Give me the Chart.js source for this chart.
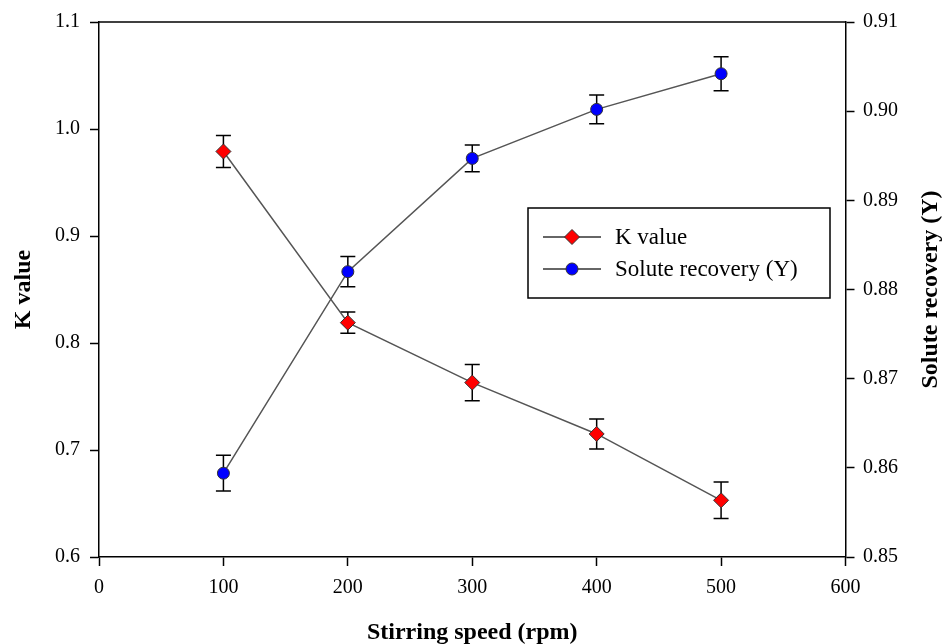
<!DOCTYPE html>
<html>
<head>
<meta charset="utf-8">
<title>K value and solute recovery vs stirring speed</title>
<script src="https://cdn.jsdelivr.net/npm/chart.js@4.4.1/dist/chart.umd.min.js"></script>
<style>
  html, body { margin: 0; padding: 0; background: #fff; }
  #wrap { width: 950px; height: 644px; }
</style>
</head>
<body>
<div id="wrap"><canvas id="chart" width="950" height="644"></canvas></div>
<script>
// Values
const speeds = [100, 200, 300, 400, 500];
const kValues = [0.979, 0.819, 0.763, 0.715, 0.653];
const kErrors = [0.015, 0.010, 0.017, 0.014, 0.017];
const recovery = [0.8594, 0.8820, 0.8947, 0.9002, 0.9042];
const recoveryErrors = [0.0020, 0.0017, 0.0015, 0.0016, 0.0019];

const xTicks = [0, 100, 200, 300, 400, 500, 600];
const kTicks = [0.6, 0.7, 0.8, 0.9, 1.0, 1.1];
const recoveryTicks = [0.85, 0.86, 0.87, 0.88, 0.89, 0.90, 0.91];

const SERIF = "'Liberation Serif', 'Times New Roman', serif";

const errorBars = {
  id: "errorBars",
  beforeDatasetsDraw(chart) {
    const { ctx } = chart;
    const x = chart.scales.x;
    const sets = [
      { scale: chart.scales.y, values: kValues, errors: kErrors },
      { scale: chart.scales.y1, values: recovery, errors: recoveryErrors },
    ];
    ctx.save();
    ctx.strokeStyle = "#000";
    ctx.lineWidth = 1.5;
    sets.forEach((set) => {
      set.values.forEach((v, i) => {
        const px = x.getPixelForValue(speeds[i]);
        const top = set.scale.getPixelForValue(v + set.errors[i]);
        const bot = set.scale.getPixelForValue(v - set.errors[i]);
        ctx.beginPath();
        ctx.moveTo(px, top);
        ctx.lineTo(px, bot);
        ctx.moveTo(px - 7.5, top);
        ctx.lineTo(px + 7.5, top);
        ctx.moveTo(px - 7.5, bot);
        ctx.lineTo(px + 7.5, bot);
        ctx.stroke();
      });
    });
    ctx.restore();
  },
};

const frameAndLegend = {
  id: "frameAndLegend",
  afterDraw(chart) {
    const { ctx, chartArea } = chart;
    ctx.save();
    // top frame line
    ctx.strokeStyle = "#000";
    ctx.lineWidth = 1.5;
    ctx.beginPath();
    ctx.moveTo(chartArea.left, chartArea.top);
    ctx.lineTo(chartArea.right, chartArea.top);
    ctx.stroke();

    // right axis title, reading upwards
    ctx.fillStyle = "#000";
    ctx.font = `bold 24px ${SERIF}`;
    ctx.textAlign = "center";
    ctx.textBaseline = "middle";
    ctx.translate(931, (chartArea.top + chartArea.bottom) / 2);
    ctx.rotate(-Math.PI / 2);
    ctx.fillText("Solute recovery (Y)", 0, 0);
    ctx.setTransform(1, 0, 0, 1, 0, 0);

    // legend box
    ctx.lineWidth = 1.5;
    ctx.strokeRect(528, 208, 302, 90);
    const rows = [
      { label: "K value", y: 237, color: "#ff0000", shape: "diamond" },
      { label: "Solute recovery (Y)", y: 269, color: "#0000ff", shape: "circle" },
    ];
    rows.forEach((row) => {
      ctx.strokeStyle = "#333";
      ctx.lineWidth = 1.5;
      ctx.beginPath();
      ctx.moveTo(543, row.y);
      ctx.lineTo(601, row.y);
      ctx.stroke();
      ctx.fillStyle = row.color;
      ctx.lineWidth = 1;
      ctx.beginPath();
      if (row.shape === "diamond") {
        ctx.moveTo(572, row.y - 7.5);
        ctx.lineTo(579.5, row.y);
        ctx.lineTo(572, row.y + 7.5);
        ctx.lineTo(564.5, row.y);
        ctx.closePath();
      } else {
        ctx.arc(572, row.y, 6, 0, Math.PI * 2);
      }
      ctx.fill();
      ctx.stroke();
      ctx.fillStyle = "#000";
      ctx.font = `23px ${SERIF}`;
      ctx.textAlign = "left";
      ctx.textBaseline = "middle";
      ctx.fillText(row.label, 615, row.y + 1);
    });
    ctx.restore();
  },
};

function tickSet(list) {
  return (scale) => {
    scale.ticks = list.map((v) => ({ value: v }));
  };
}

const axisCommon = {
  grid: { drawOnChartArea: false, drawTicks: true, tickLength: 9, tickColor: "#000", tickWidth: 1.5 },
  border: { color: "#000", width: 1.5 },
};

new Chart(document.getElementById("chart"), {
  type: "scatter",
  data: {
    datasets: [
      {
        label: "K value",
        data: speeds.map((s, i) => ({ x: s, y: kValues[i] })),
        yAxisID: "y",
        showLine: true,
        borderColor: "#555",
        borderWidth: 1.5,
        pointStyle: "rectRot",
        pointRadius: 7.5,
        pointBackgroundColor: "#ff0000",
        pointBorderColor: "#333",
        pointBorderWidth: 1,
      },
      {
        label: "Solute recovery (Y)",
        data: speeds.map((s, i) => ({ x: s, y: recovery[i] })),
        yAxisID: "y1",
        showLine: true,
        borderColor: "#555",
        borderWidth: 1.5,
        pointStyle: "circle",
        pointRadius: 6,
        pointBackgroundColor: "#0000ff",
        pointBorderColor: "#333",
        pointBorderWidth: 1,
      },
    ],
  },
  options: {
    responsive: false,
    animation: false,
    layout: { padding: { top: 22, left: 0, right: 0, bottom: 0 } },
    plugins: { legend: { display: false }, tooltip: { enabled: false } },
    scales: {
      x: {
        ...axisCommon,
        type: "linear",
        min: 0,
        max: 600,
        afterBuildTicks: tickSet(xTicks),
        afterFit: (s) => { s.height = 87; },
        ticks: { color: "#000", font: { family: SERIF, size: 20 }, padding: 10 },
        title: {
          display: true,
          text: "Stirring speed (rpm)",
          color: "#000",
          font: { family: SERIF, size: 24, weight: "bold", lineHeight: 1 },
          padding: { top: 0, bottom: -1 },
        },
      },
      y: {
        ...axisCommon,
        position: "left",
        min: 0.6,
        max: 1.1,
        afterBuildTicks: tickSet(kTicks),
        afterFit: (s) => { s.width = 99; },
        ticks: {
          color: "#000",
          font: { family: SERIF, size: 20 },
          padding: 10,
          callback: (v) => Number(v).toFixed(1),
        },
        title: {
          display: true,
          text: "K value",
          color: "#000",
          font: { family: SERIF, size: 24, weight: "bold", lineHeight: 1 },
          padding: { top: 12, bottom: 0 },
        },
      },
      y1: {
        ...axisCommon,
        position: "right",
        min: 0.85,
        max: 0.91,
        afterBuildTicks: tickSet(recoveryTicks),
        afterFit: (s) => { s.width = 104.5; },
        ticks: {
          color: "#000",
          font: { family: SERIF, size: 20 },
          padding: 8.5,
          callback: (v) => Number(v).toFixed(2),
        },
      },
    },
  },
  plugins: [errorBars, frameAndLegend],
});
</script>
</body>
</html>
